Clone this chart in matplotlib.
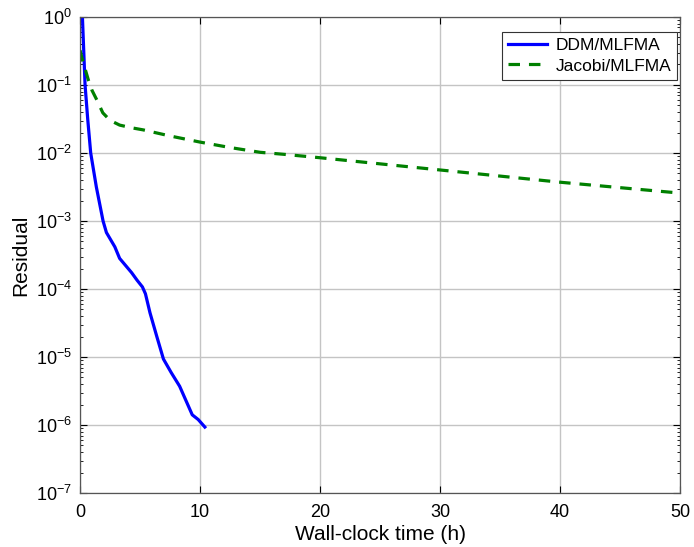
"""
Convergence history: residual vs wall-clock time for DDM/MLFMA and Jacobi/MLFMA.
Saves out.png.
"""

import matplotlib
matplotlib.use("Agg")
import matplotlib.pyplot as plt
import numpy as np

BLUE = "#0000FF"
GREEN = "#008000"
GRID = "#c4c4c4"

plt.rcParams.update({
    "font.family": ["Liberation Sans", "DejaVu Sans"],
    "mathtext.fontset": "custom",
    "mathtext.rm": "Liberation Sans",
    "mathtext.it": "Liberation Sans:italic",
    "font.size": 13,
})

# DDM/MLFMA residual history (time in hours, residual as log10)
ddm_time = [0.2, 0.42, 0.64, 0.89, 1.36, 1.92, 2.2, 2.9, 3.3, 4.3, 4.75, 5.2,
            5.45, 5.83, 6.4, 6.95, 7.6, 8.3, 8.9, 9.35, 9.85, 10.4]
ddm_log_res = [0.0, -1.0, -1.5, -2.0, -2.5, -3.0, -3.17, -3.38, -3.55, -3.76,
               -3.87, -3.97, -4.07, -4.35, -4.7, -5.03, -5.23, -5.43, -5.67,
               -5.85, -5.92, -6.03]

# Jacobi/MLFMA residual history
jac_time = [0.0, 0.2, 0.7, 1.0, 1.4, 1.9, 2.5, 3.3, 4.3, 5.25, 7.5, 10.0,
            12.5, 15.0, 17.0, 20.0, 30.0, 40.0, 50.0]
jac_log_res = [-0.49, -0.63, -0.93, -1.08, -1.22, -1.41, -1.52, -1.59, -1.63,
               -1.66, -1.75, -1.84, -1.92, -1.99, -2.02, -2.07, -2.25, -2.43,
               -2.59]

y_decades = list(range(-7, 1))

ddm_res = 10.0 ** np.array(ddm_log_res)
jac_res = 10.0 ** np.array(jac_log_res)

fig = plt.figure(figsize=(6.94, 5.47), dpi=100)
ax = fig.add_axes([0.1153, 0.0987, 0.8647, 0.8703])

ax.semilogy(ddm_time, ddm_res, color=BLUE, linewidth=2.3, label="DDM/MLFMA")
ax.semilogy(jac_time, jac_res, color=GREEN, linewidth=2.3,
            linestyle=(0, (3.6, 2.8)), label="Jacobi/MLFMA")

ax.set_xlim(0, 50)
ax.set_ylim(1e-7, 1e0)
ax.set_xticks([0, 10, 20, 30, 40, 50])
ax.set_yticks([10.0 ** d for d in y_decades],
              [f"$10^{{{d}}}$" for d in y_decades])
minor = [m * 10.0 ** d for d in y_decades[:-1] for m in range(2, 10)]
ax.set_yticks(minor, minor=True)
ax.set_yticklabels([], minor=True)

ax.grid(True, which="major", color=GRID, linewidth=1.0)
ax.tick_params(which="both", direction="in", top=True, right=True)
ax.tick_params(which="major", length=5, labelsize=13)
ax.tick_params(axis="x", which="major", pad=8)
ax.tick_params(axis="y", which="major", pad=6)
ax.tick_params(which="minor", length=2.5)
for s in ax.spines.values():
    s.set_color("#555555")
    s.set_linewidth(0.9)

ax.set_xlabel("Wall-clock time (h)", fontsize=15, labelpad=3)
ax.set_ylabel("Residual", fontsize=15, labelpad=4)

leg = ax.legend(loc="upper right", bbox_to_anchor=(0.995, 0.9685),
                borderaxespad=0, fontsize=12.5, fancybox=False, framealpha=1,
                edgecolor="#333333", handlelength=2.2, handletextpad=0.5,
                borderpad=0.35, labelspacing=0.3)
leg.get_frame().set_linewidth(0.8)

fig.savefig("out.png", dpi=100)
